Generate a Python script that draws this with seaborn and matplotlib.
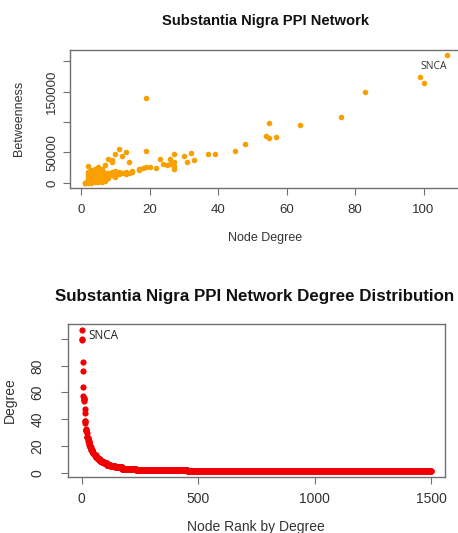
import numpy as np
import pandas as pd
import matplotlib
matplotlib.use("Agg")
import matplotlib.pyplot as plt
import seaborn as sns

# ---- Top panel: node degree vs betweenness ----
scatter_degree = [
    1, 1, 1,
    2, 2, 2, 2, 2, 2, 2, 2, 2,
    3, 3, 3, 3, 3, 3, 3, 3, 3, 3,
    4, 4, 4, 4, 4, 4, 4, 4, 4, 4,
    5, 5, 5, 5, 5, 5, 5, 5, 5, 5, 5,
    6, 6, 6, 6, 6, 6, 6, 6,
    7, 7, 7, 7, 7, 7,
    8, 8, 8, 8,
    9, 9, 9, 9,
    10, 10, 10, 10,
    11, 11, 11,
    12, 12,
    13, 13, 13,
    14, 14,
    15, 15,
    17, 17, 18,
    19, 19, 19, 20, 22, 23, 24, 25, 26, 26,
    27, 27, 27, 27, 30, 31, 32, 33, 37, 39,
    45, 48, 54, 55, 55, 57, 64, 76, 83, 99, 100, 107,
]
scatter_betweenness = [
    0, 0, 500,
    0, 1500, 3000, 5000, 8000, 12000, 15000, 18000, 28000,
    500, 2500, 4500, 7000, 9000, 11000, 13000, 16000, 19000, 22000,
    1000, 3000, 5500, 8000, 10000, 12500, 15000, 17500, 20000, 23000,
    1500, 4000, 6500, 9000, 11500, 14000, 16500, 19000, 21500, 24000, 26000,
    2000, 5000, 8000, 11000, 14000, 17000, 20000, 23000,
    3000, 6000, 9000, 12000, 16000, 30000,
    8000, 13000, 17000, 40000,
    13000, 18000, 38000, 34000,
    9800, 15300, 20000, 48000,
    15300, 18000, 56000,
    16000, 44000,
    15300, 50700, 18000,
    17000, 34400,
    18000, 20000,
    23500, 22000, 24000,
    26200, 52900, 140200, 26200, 24500, 39800, 31600, 30000, 31600, 39800,
    27800, 23500, 48000, 35000, 44700, 34400, 49600, 37100, 48000, 46900,
    52900, 64400, 76400, 73600, 98200, 75300, 94400, 109100, 149000, 173500, 164800, 210000,
]

# ---- Bottom panel: degree distribution (degree value, number of nodes) ----
degree_values = [107, 100, 99, 83, 76, 64, 57, 56, 55, 54, 48, 45, 39, 37, 33, 32, 31, 30,
                 27, 26, 25, 24, 23, 22, 21, 20, 19, 18, 17, 16, 15, 14, 13, 12, 11, 10,
                 9, 8, 7, 6, 5, 4, 3, 2, 1]
degree_counts = [1, 1, 1, 1, 1, 1, 1, 1, 2, 1, 1, 1, 2, 1, 1, 2, 1, 1,
                 3, 2, 1, 2, 1, 2, 1, 2, 3, 2, 3, 3, 4, 4, 5, 5, 6, 7,
                 8, 10, 12, 15, 20, 30, 60, 220, 1046]

top_title = "Substantia Nigra PPI Network"
bottom_title = "Substantia Nigra PPI Network Degree Distribution"
label_text = "SNCA"

top_xticks = [0, 20, 40, 60, 80, 100]
top_yticks = [0, 50000, 100000, 150000, 200000]
top_yticklabels = ["0", "50000", "", "150000", ""]
bot_xticks = [0, 500, 1000, 1500]
bot_yticks = [0, 20, 40, 60, 80, 100]
bot_yticklabels = ["0", "20", "40", "60", "80", ""]

sns.set_style("ticks")
plt.rcParams['font.family'] = ['Liberation Sans', 'DejaVu Sans']

W, H = 458, 533
fig = plt.figure(figsize=(W / 100, H / 100), dpi=100)

def box(l, t, r, b):
    return [l / W, 1 - b / H, (r - l) / W, (b - t) / H]

edge = "#707070"
txt = "#333333"

# Top axes
ax1 = fig.add_axes(box(70, 50, 462, 188))
df1 = pd.DataFrame({"deg": scatter_degree, "btw": scatter_betweenness})
sns.scatterplot(data=df1, x="deg", y="btw", ax=ax1, color="#F7A000",
                s=16, linewidth=0, legend=False)
ax1.set_xlim(-3.24, 111.24)
ax1.set_ylim(-8400, 218400)
ax1.set_xticks(top_xticks)
ax1.set_xticklabels([str(v) for v in top_xticks])
ax1.set_yticks(top_yticks)
ax1.set_yticklabels(top_yticklabels, rotation=90, va="center")
ax1.tick_params(axis="x", length=5, pad=6.5, labelsize=9.5, colors=edge, labelcolor=txt)
ax1.tick_params(axis="y", length=5, pad=3.5, labelsize=9.5, colors=edge, labelcolor=txt)
ax1.set_xlabel("")
ax1.set_ylabel("")
ax1.text(103, 191000, label_text, ha="center", va="center", fontsize=7.5,
         color="#333333", family=["Open Sans", "DejaVu Sans"])

# Bottom axes
ax2 = fig.add_axes(box(68, 324, 445, 477))
deg_sorted = np.repeat(degree_values, degree_counts)
df2 = pd.DataFrame({"rank": np.arange(1, len(deg_sorted) + 1), "degree": deg_sorted})
sns.scatterplot(data=df2, x="rank", y="degree", ax=ax2, color="#F00000",
                s=20, linewidth=0, legend=False)
ax2.set_xlim(-59, 1558)
ax2.set_ylim(-3.24, 111.24)
ax2.set_xticks(bot_xticks)
ax2.set_xticklabels([str(v) for v in bot_xticks])
ax2.set_yticks(bot_yticks)
ax2.set_yticklabels(bot_yticklabels, rotation=90, va="center")
ax2.tick_params(axis="x", length=5, pad=5.5, labelsize=10, colors=edge, labelcolor=txt)
ax2.tick_params(axis="y", length=5, pad=12, labelsize=10, colors=edge, labelcolor=txt)
ax2.set_xlabel("")
ax2.set_ylabel("")
ax2.text(30, 103, label_text, ha="left", va="center", fontsize=8.5,
         color="#222222", family=["Open Sans", "DejaVu Sans"])

for ax in (ax1, ax2):
    for sp in ax.spines.values():
        sp.set_visible(True)
        sp.set_color(edge)
        sp.set_linewidth(1.0)

# Titles and axis labels
fig.text(266 / W, 1 - 21 / H, top_title, ha="center", va="center",
         fontsize=10.6, fontweight="bold", color="#111111")
fig.text(265 / W, 1 - 238 / H, "Node Degree", ha="center", va="center",
         fontsize=9, color=txt)
fig.text(19 / W, 1 - 118 / H, "Betweenness", ha="center", va="center",
         fontsize=9, color=txt, rotation=90)

fig.text(255 / W, 1 - 297 / H, bottom_title, ha="center", va="center",
         fontsize=12.2, fontweight="bold", color="#111111")
fig.text(256 / W, 1 - 527 / H, "Node Rank by Degree", ha="center", va="center",
         fontsize=10, color=txt)
fig.text(10 / W, 1 - 400 / H, "Degree", ha="center", va="center",
         fontsize=10, color=txt, rotation=90)

fig.savefig("out.png", dpi=100, facecolor="white")
